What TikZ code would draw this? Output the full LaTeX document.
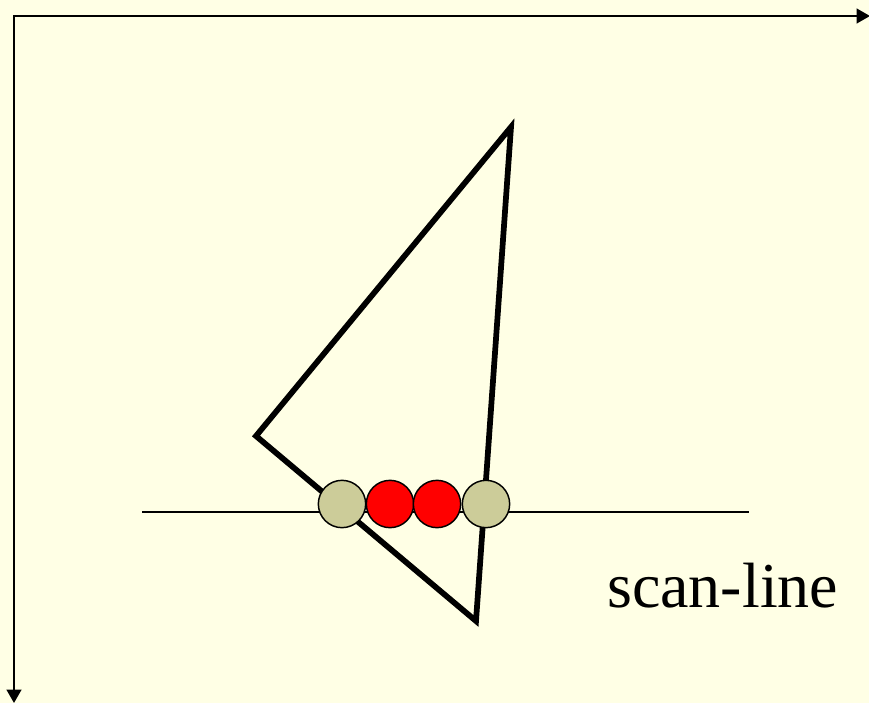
\documentclass[tikz,border=0pt]{standalone}
\usepackage{fontspec}
\setmainfont{Liberation Serif}
\usetikzlibrary{arrows.meta}
\definecolor{bg}{RGB}{255,255,229}
\definecolor{tan}{RGB}{204,204,153}
\begin{document}
\begin{tikzpicture}[x=0.75pt,y=-0.75pt,
  axis/.style={line width=1.6pt,-{Triangle[length=10pt,width=11pt]}},
  edge/.style={line width=4.3pt,line join=miter},
  pt/.style={circle,draw=black,line width=1.1pt,minimum size=35.5pt,inner sep=0pt},
  endpt/.style={pt,fill=tan},
  inpt/.style={pt,fill=red}]
\fill[bg] (0,0) rectangle (869,703);
\useasboundingbox (0,0) rectangle (869,703);
\coordinate (o) at (14,16);
\coordinate (xe) at (870,16);
\coordinate (ye) at (14,703);
\draw[axis] (o) -- (xe);
\draw[axis,line cap=rect] (o) -- (ye);
\coordinate (t1) at (511,127);
\coordinate (t2) at (256,436);
\coordinate (t3) at (476,621);
\draw[edge] (t1) -- (t2) -- (t3) -- cycle;
\coordinate (s1) at (142,512);
\coordinate (s2) at (749,512);
\draw[line width=1.1pt] (s1) -- (s2);
\node[endpt] (p1) at (342,504) {};
\node[inpt] (p2) at (390,504) {};
\node[inpt] (p3) at (437,504) {};
\node[endpt] (p4) at (486,504) {};
\node[anchor=base west,inner sep=0pt,font=\fontsize{48}{52}\selectfont] (lbl) at (607,607) {scan-line};
\end{tikzpicture}
\end{document}
